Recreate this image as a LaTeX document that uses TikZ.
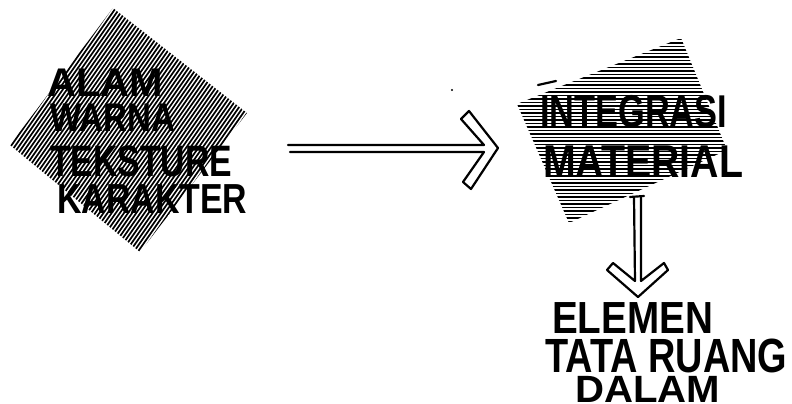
\documentclass[tikz,border=0pt]{standalone}
\usepackage{fontspec}
\usepackage{graphicx}
\usepackage{tikz}
\usetikzlibrary{calc}
\setmainfont{Liberation Sans}
\newfontfamily\handfont{Liberation Sans}
\definecolor{ink}{HTML}{000000}
\newcommand{\lettering}[2]{\resizebox{#1}{\height}{#2}}
\tikzset{
  handtext/.style={inner sep=0pt, anchor=base west, text=ink, font=\handfont\bfseries\fontsize{#1}{#1}\selectfont},
  hatchline/.style={draw=ink, line width=1.7pt},
  sketcharrow/.style={draw=ink, line width=2.2pt, line join=round, line cap=round}
}

\begin{document}
\begin{tikzpicture}[x=1pt, y=-1pt]
  \useasboundingbox (0,0) rectangle (792,404);
  % left: hatched diamond with four words
  \begin{scope}
    \clip (113,8) -- (247,113) -- (140,252) -- (10,145) -- cycle;
    \foreach \s in {-200,-195.9,...,260}
      \draw[hatchline] (\s,260) -- ++(182,-260);
  \end{scope}
  \node[handtext=40pt] (alam) at (47,96) {\lettering{116pt}{ALAM}};
  \node[handtext=40pt] (warna) at (50,131) {\lettering{125pt}{WARNA}};
  \node[handtext=44pt] (tekstur) at (50,176) {\lettering{182pt}{TEKSTURE}};
  \node[handtext=42pt] (karakter) at (57,213) {\lettering{190pt}{KARAKTER}};
  % right: hatched block
  \begin{scope}
    \clip (517,104) -- (681,38) -- (727,150) -- (569,223) -- cycle;
    \foreach \y in {36,39.5,...,226}
      \draw[hatchline, line width=1.6pt] (500,\y) -- (740,\y);
  \end{scope}
  \node[handtext=46pt] (integrasi) at (540,127) {\lettering{187pt}{INTEGRASI}};
  \node[handtext=46pt] (material) at (543,177) {\lettering{200pt}{MATERIAL}};
  \draw[sketcharrow] (538,85) -- (556,81);
  \fill[ink] (452,90) circle (1.2);
  % bottom words
  \node[handtext=45pt] (elemen) at (552,333) {\lettering{161pt}{ELEMEN}};
  \node[handtext=48pt] (tataruang) at (545,372) {\lettering{242pt}{TATA RUANG}};
  \node[handtext=38pt] (dalam) at (575,402) {\lettering{145pt}{DALAM}};
  % double arrows
  \coordinate (arrowstart) at (288,148);
  \coordinate (arrowend) at (498,148);
  \draw[sketcharrow] ($(arrowstart)+(0,-3)$) -- ($(arrowend)+(-14,-3)$)
    -- ($(arrowend)+(-37,-29)$) -- ($(arrowend)+(-29,-37)$) -- (arrowend)
    -- ($(arrowend)+(-27,41)$) -- ($(arrowend)+(-35,34)$)
    -- ($(arrowend)+(-14,4)$) -- ($(arrowstart)+(2,4)$);
  \coordinate (downstart) at (638,197);
  \coordinate (downend) at (638,297);
  \draw[sketcharrow] ($(downstart)+(-8,0)$) -- ($(downstart)+(6,-1)$);
  \draw[sketcharrow] ($(downstart)+(-4,0)$) -- ($(downend)+(-3,-16)$)
    -- ($(downend)+(-25,-34)$) -- ($(downend)+(-31,-27)$) -- (downend)
    -- ($(downend)+(30,-27)$) -- ($(downend)+(26,-34)$)
    -- ($(downend)+(3,-16)$) -- ($(downstart)+(3,0)$);
\end{tikzpicture}
\end{document}
